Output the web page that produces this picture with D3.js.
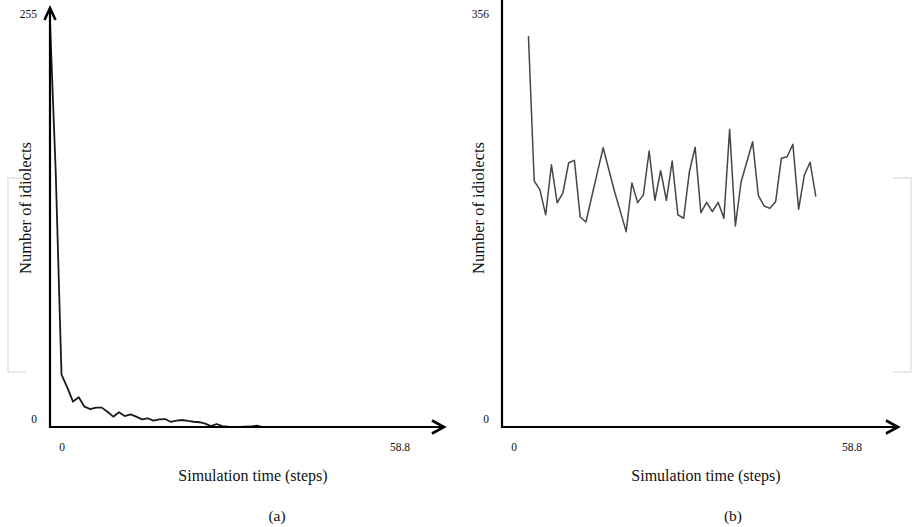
<!DOCTYPE html>
<html>
<head>
<meta charset="utf-8">
<script src="https://cdn.jsdelivr.net/npm/d3@7"></script>
<style>
  html, body { margin: 0; padding: 0; background: #fff; }
  svg { display: block; }
  text { font-family: "Liberation Serif", "DejaVu Serif", serif; fill: #111; }
</style>
</head>
<body>
<svg id="chart" width="914" height="527"></svg>
<script>
// ---- data ----
const xTickLabels = ["0", "58.8"];
const xTickValues = [0, 58.8];
const yMaxA = 255;
const yMaxB = 356;
const yTickLabelsA = ["0", "255"];
const yTickLabelsB = ["0", "356"];
const xTitle = "Simulation time (steps)";
const yTitle = "Number of idiolects";
const panelLabels = ["(a)", "(b)"];

// panel (a): steps and number of idiolects
const timesA = [0,1,2,3,4,5,6,7,8,9,10,11,12,13,14,15,16,17,18,19,20,21,22,23,24,25,26,27,28,29,30,31,32,33,34,35,36,37,38,39];
const valuesA = [255,160,33,25,16,18.7,12.8,11.3,12.2,12.2,9.6,6.5,9.3,6.9,8.0,6.5,4.8,5.5,4.0,4.8,5.0,3.3,4.0,4.4,3.8,3.3,3.0,2.1,0.6,1.9,0.6,0.2,0,0,0.2,0.3,0.9,0,0,0];

// panel (b)
const timesB = [4.6,5.6,6.6,7.6,8.6,9.6,10.6,11.6,12.6,13.6,14.6,15.6,16.6,17.6,18.6,19.6,20.6,21.6,22.6,23.6,24.6,25.6,26.6,27.6,28.6,29.6,30.6,31.6,32.6,33.6,34.6,35.6,36.6,37.6,38.6,39.6,40.6,41.6,42.6,43.6,44.6,45.6,46.6,47.6,48.6,49.6,50.6,51.6,52.6,53.6,54.6];
const valuesB = [343.7,216.4,208.5,186.5,230.5,197.1,205.9,232.3,234.4,184.6,180.2,202.2,224.1,245.5,225.9,206.6,189.3,171.7,214.5,197.2,204.0,242.6,199.3,225.3,199.3,233.8,186.4,183.5,224.4,245.9,188.4,197.5,189.3,197.5,183.5,261.7,176.7,215.6,233.2,250.8,203.3,194.3,192.2,198.0,236.2,237.6,248.5,191.4,221.5,232.7,202.4];

// ---- layout ----
const svg = d3.select("#chart");

// faint background brackets (watermark)
const wm = svg.append("g").attr("fill", "none").attr("stroke", "#e4e4e4").attr("stroke-width", 1.5);
wm.append("path").attr("d", d3.line()([[26,178],[8,178],[8,372],[26,372]]));
wm.append("path").attr("d", d3.line()([[893,178],[911,178],[911,372],[893,372]]));

const panels = [
  { x0: 50, xEnd: 444, yTop: 8, arrowTop: true, yMax: yMaxA, yLabels: yTickLabelsA,
    times: timesA, values: valuesA, color: "#1a1a1a", width: 1.8,
    titleX: 253, labelX: 277, yTitleX: 31, label: panelLabels[0] },
  { x0: 502, xEnd: 898, yTop: -2, arrowTop: false, yMax: yMaxB, yLabels: yTickLabelsB,
    times: timesB, values: valuesB, color: "#454545", width: 1.5,
    titleX: 706, labelX: 733, yTitleX: 484, label: panelLabels[1] }
];

const y0 = 427;
const yTopVal = 22;

panels.forEach(p => {
  const g = svg.append("g");
  const x = d3.scaleLinear().domain([0, 58.8]).range([p.x0, p.x0 + 338]);
  const y = d3.scaleLinear().domain([0, p.yMax]).range([y0, yTopVal]);

  // data line
  const line = d3.line().x((d, i) => x(p.times[i])).y(d => y(d));
  g.append("path")
    .datum(p.values)
    .attr("d", line)
    .attr("fill", "none")
    .attr("stroke", p.color)
    .attr("stroke-width", p.width)
    .attr("stroke-linejoin", "round");

  // axes
  const ax = g.append("g").attr("stroke", "#000").attr("fill", "none")
    .attr("stroke-width", 2.2).attr("stroke-linecap", "butt");
  ax.append("line").attr("x1", p.x0).attr("x2", p.x0).attr("y1", p.yTop).attr("y2", y0 + 1);
  ax.append("line").attr("x1", p.x0 - 1).attr("x2", p.xEnd).attr("y1", y0).attr("y2", y0);
  // arrow heads
  ax.append("path").attr("stroke-width", 2.6).attr("stroke-linejoin", "miter")
    .attr("d", d3.line()([[p.xEnd - 12, y0 - 6.5], [p.xEnd, y0], [p.xEnd - 12, y0 + 6.5]]));
  if (p.arrowTop) {
    ax.append("path").attr("stroke-width", 2.6).attr("stroke-linejoin", "miter")
      .attr("d", d3.line()([[p.x0 - 5.5, p.yTop + 12], [p.x0, p.yTop], [p.x0 + 5.5, p.yTop + 12]]));
  }

  // y tick labels
  g.selectAll("text.ytick")
    .data([0, p.yMax])
    .join("text")
    .attr("class", "ytick")
    .attr("x", p.x0 - 13)
    .attr("y", d => y(d) - 8)
    .attr("dy", "0.35em")
    .attr("text-anchor", "end")
    .attr("font-size", 11.5)
    .text((d, i) => p.yLabels[i]);

  // x tick labels
  g.selectAll("text.xtick")
    .data(xTickValues)
    .join("text")
    .attr("class", "xtick")
    .attr("x", d => x(d) + 12)
    .attr("y", 447)
    .attr("dy", "0.35em")
    .attr("text-anchor", "middle")
    .attr("font-size", 11.5)
    .text((d, i) => xTickLabels[i]);

  // axis titles
  g.append("text")
    .attr("x", p.titleX).attr("y", 481)
    .attr("text-anchor", "middle")
    .attr("font-size", 16)
    .text(xTitle);

  g.append("text")
    .attr("transform", `translate(${p.yTitleX},208) rotate(-90)`)
    .attr("text-anchor", "middle")
    .attr("font-size", 16.5)
    .text(yTitle);

  // panel label
  g.append("text")
    .attr("x", p.labelX).attr("y", 521)
    .attr("text-anchor", "middle")
    .attr("font-size", 15.5)
    .text(p.label);
});
</script>
</body>
</html>
